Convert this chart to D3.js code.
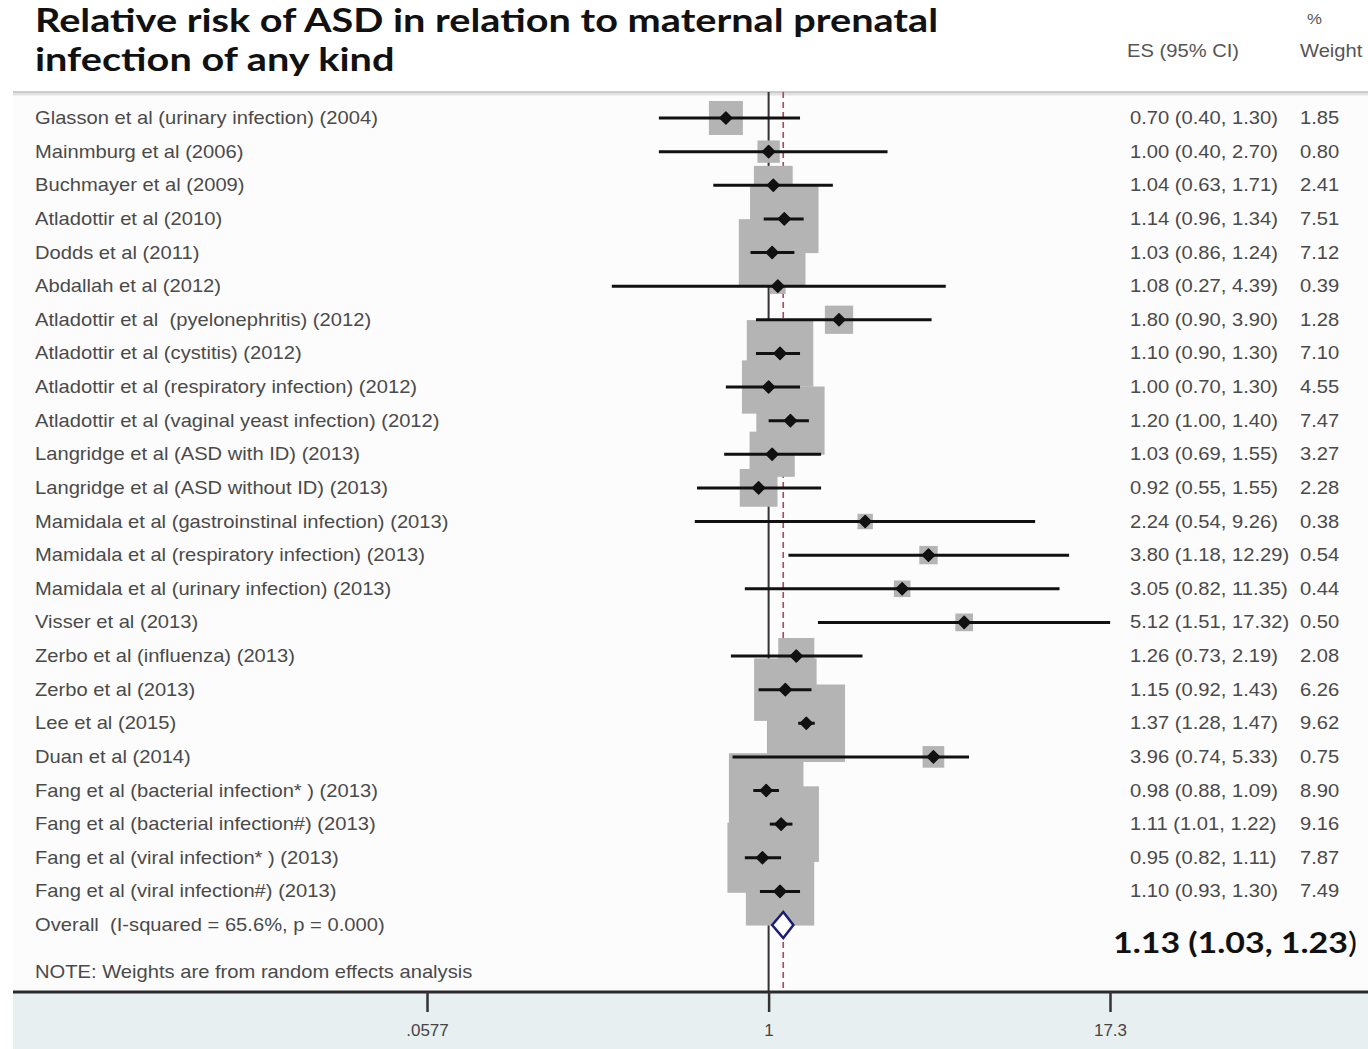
<!DOCTYPE html>
<html>
<head>
<meta charset="utf-8">
<script src="https://cdn.jsdelivr.net/npm/d3@7"></script>
<style>
  html, body { margin: 0; padding: 0; background: #ffffff; }
  svg { display: block; }
</style>
</head>
<body>
<div id="chart"></div>
<script>
// study rows
const studies = [
  'Glasson et al (urinary infection) (2004)',
  'Mainmburg et al (2006)',
  'Buchmayer et al (2009)',
  'Atladottir et al (2010)',
  'Dodds et al (2011)',
  'Abdallah et al (2012)',
  'Atladottir et al  (pyelonephritis) (2012)',
  'Atladottir et al (cystitis) (2012)',
  'Atladottir et al (respiratory infection) (2012)',
  'Atladottir et al (vaginal yeast infection) (2012)',
  'Langridge et al (ASD with ID) (2013)',
  'Langridge et al (ASD without ID) (2013)',
  'Mamidala et al (gastroinstinal infection) (2013)',
  'Mamidala et al (respiratory infection) (2013)',
  'Mamidala et al (urinary infection) (2013)',
  'Visser et al (2013)',
  'Zerbo et al (influenza) (2013)',
  'Zerbo et al (2013)',
  'Lee et al (2015)',
  'Duan et al (2014)',
  'Fang et al (bacterial infection* ) (2013)',
  'Fang et al (bacterial infection#) (2013)',
  'Fang et al (viral infection* ) (2013)',
  'Fang et al (viral infection#) (2013)'
];
const es =     [0.70, 1.00, 1.04, 1.14, 1.03, 1.08, 1.80, 1.10, 1.00, 1.20, 1.03, 0.92, 2.24, 3.80, 3.05, 5.12, 1.26, 1.15, 1.37, 3.96, 0.98, 1.11, 0.95, 1.10];
const ciLow =  [0.40, 0.40, 0.63, 0.96, 0.86, 0.27, 0.90, 0.90, 0.70, 1.00, 0.69, 0.55, 0.54, 1.18, 0.82, 1.51, 0.73, 0.92, 1.28, 0.74, 0.88, 1.01, 0.82, 0.93];
const ciHigh = [1.30, 2.70, 1.71, 1.34, 1.24, 4.39, 3.90, 1.30, 1.30, 1.40, 1.55, 1.55, 9.26, 12.29, 11.35, 17.32, 2.19, 1.43, 1.47, 5.33, 1.09, 1.22, 1.11, 1.30];
const weights = [1.85, 0.80, 2.41, 7.51, 7.12, 0.39, 1.28, 7.10, 4.55, 7.47, 3.27, 2.28, 0.38, 0.54, 0.44, 0.50, 2.08, 6.26, 9.62, 0.75, 8.90, 9.16, 7.87, 7.49];

const overallLabel = 'Overall  (I-squared = 65.6%, p = 0.000)';
const overall = { es: 1.13, lo: 1.03, hi: 1.23 };
const xTicks = [0.0577, 1, 17.3];
const xTickLabels = ['.0577', '1', '17.3'];

const W = 1368, H = 1049;
const rowFont = '"Liberation Sans", Arial, sans-serif';
const titleFont = 'Lato, "Open Sans", sans-serif';

const svg = d3.select('#chart').append('svg')
  .attr('width', W)
  .attr('height', H);

// the source picture is a bit stretched sideways, so text gets a small x-scale
function stretchedText(parent, px, py, sx) {
  return parent.append('text')
    .attr('transform', `translate(${px}, ${py}) scale(${sx}, 1)`)
    .attr('x', 0).attr('y', 0);
}

// scales
const x = d3.scaleLog().domain([0.0577, 17.3]).range([427, 1110]);
const rowIds = d3.range(studies.length + 1);
const y = d3.scalePoint().domain(rowIds).range([118, 925]);
const boxSide = d3.scaleSqrt().domain([0, 10]).range([0, 79]);

const plotTop = 92, axisY = 992;

// backgrounds
svg.append('rect')
  .attr('x', 13).attr('y', plotTop)
  .attr('width', W - 13).attr('height', axisY - plotTop)
  .attr('fill', '#fcfcfc');

svg.append('rect')
  .attr('x', 13).attr('y', axisY)
  .attr('width', W - 13).attr('height', H - axisY)
  .attr('fill', '#e8eff1');

// title panel separator
svg.append('line')
  .attr('x1', 13).attr('x2', W)
  .attr('y1', plotTop + 2).attr('y2', plotTop + 2)
  .attr('stroke', '#e2e2e2').attr('stroke-width', 3);
svg.append('line')
  .attr('x1', 13).attr('x2', W)
  .attr('y1', plotTop).attr('y2', plotTop)
  .attr('stroke', '#bdbdbd').attr('stroke-width', 1.5);

// title
[['Relative risk of ASD in relation to maternal prenatal', 32],
 ['infection of any kind', 71]].forEach(([t, ty]) => {
  stretchedText(svg, 35, ty, 1.24)
    .attr('font-family', titleFont)
    .attr('font-weight', 'bold')
    .attr('font-size', '32px')
    .attr('fill', '#111')
    .text(t);
});

// column headers
stretchedText(svg, 1127, 57, 1.12)
  .attr('font-family', rowFont).attr('font-size', '18px').attr('fill', '#555')
  .text('ES (95% CI)');
stretchedText(svg, 1307, 24, 1.12)
  .attr('font-family', rowFont).attr('font-size', '15px').attr('fill', '#555')
  .text('%');
stretchedText(svg, 1300, 57, 1.12)
  .attr('font-family', rowFont).attr('font-size', '18px').attr('fill', '#555')
  .text('Weight');

// reference lines (behind boxes)
svg.append('line')
  .attr('x1', x(1)).attr('x2', x(1))
  .attr('y1', plotTop).attr('y2', axisY)
  .attr('stroke', '#333').attr('stroke-width', 2);

svg.append('line')
  .attr('x1', x(overall.es)).attr('x2', x(overall.es))
  .attr('y1', plotTop).attr('y2', axisY)
  .attr('stroke', '#a8485a').attr('stroke-width', 1.6)
  .attr('stroke-dasharray', '6,4');

const rows = studies.map((s, i) => ({
  label: s, es: es[i], lo: ciLow[i], hi: ciHigh[i], w: weights[i], i: i
}));

// weight boxes
svg.append('g').selectAll('rect')
  .data(rows)
  .enter()
  .append('rect')
  .attr('x', d => x(d.es) - boxSide(d.w) / 2)
  .attr('y', d => y(d.i) - boxSide(d.w) / 2)
  .attr('width', d => boxSide(d.w))
  .attr('height', d => boxSide(d.w))
  .attr('fill', '#b4b4b4');

// confidence intervals
svg.append('g').selectAll('line')
  .data(rows)
  .enter()
  .append('line')
  .attr('x1', d => x(d.lo))
  .attr('x2', d => x(d.hi))
  .attr('y1', d => y(d.i))
  .attr('y2', d => y(d.i))
  .attr('stroke', '#111')
  .attr('stroke-width', 3);

// point estimates
svg.append('g').selectAll('path')
  .data(rows)
  .enter()
  .append('path')
  .attr('transform', d => `translate(${x(d.es)}, ${y(d.i)})`)
  .attr('d', 'M-6,0 L0,-6 L6,0 L0,6 Z')
  .attr('fill', '#111')
  .attr('stroke', '#111')
  .attr('stroke-width', 1.5)
  .attr('stroke-linejoin', 'round');

// overall diamond
const oy = y(studies.length);
svg.append('path')
  .attr('d', `M${x(overall.lo)},${oy} L${x(overall.es)},${oy - 13} L${x(overall.hi)},${oy} L${x(overall.es)},${oy + 13} Z`)
  .attr('fill', '#fff')
  .attr('stroke', '#1c1c7a')
  .attr('stroke-width', 2.5);

// row labels and columns
const f2 = d3.format('.2f');
rows.forEach(d => {
  const ty = y(d.i) + 6;
  stretchedText(svg, 35, ty, 1.12)
    .attr('font-family', rowFont).attr('font-size', '18px').attr('fill', '#4a4a4a')
    .style('white-space', 'pre')
    .text(d.label);
  stretchedText(svg, 1130, ty, 1.12)
    .attr('font-family', rowFont).attr('font-size', '18px').attr('fill', '#4a4a4a')
    .text(`${f2(d.es)} (${f2(d.lo)}, ${f2(d.hi)})`);
  stretchedText(svg, 1300, ty, 1.12)
    .attr('font-family', rowFont).attr('font-size', '18px').attr('fill', '#4a4a4a')
    .text(f2(d.w));
});

stretchedText(svg, 35, oy + 6, 1.12)
  .attr('font-family', rowFont).attr('font-size', '18px').attr('fill', '#4a4a4a')
  .style('white-space', 'pre')
  .text(overallLabel);

stretchedText(svg, 35, 978, 1.12)
  .attr('font-family', rowFont).attr('font-size', '18px').attr('fill', '#4a4a4a')
  .text('NOTE: Weights are from random effects analysis');

// overall estimate, big and bold
const big = stretchedText(svg, 1113, 953, 1.17)
  .attr('font-family', titleFont)
  .attr('font-size', '29px')
  .attr('fill', '#111');
big.append('tspan').attr('font-weight', 'bold')
  .text(`${f2(overall.es)} (${f2(overall.lo)}, ${f2(overall.hi)}`);
big.append('tspan').text(')');

// x axis
svg.append('line')
  .attr('x1', 13).attr('x2', W)
  .attr('y1', axisY).attr('y2', axisY)
  .attr('stroke', '#2a2a2a').attr('stroke-width', 3);

const axis = d3.axisBottom(x)
  .tickValues(xTicks)
  .tickFormat((d, i) => xTickLabels[i])
  .tickSize(20)
  .tickPadding(12);

const axisG = svg.append('g')
  .attr('transform', `translate(0, ${axisY})`)
  .call(axis);
axisG.select('.domain').remove();
axisG.selectAll('.tick line').attr('stroke', '#333').attr('stroke-width', 2.5);
axisG.selectAll('.tick text')
  .attr('font-family', rowFont)
  .attr('font-size', '17px')
  .attr('fill', '#444');
</script>
</body>
</html>
